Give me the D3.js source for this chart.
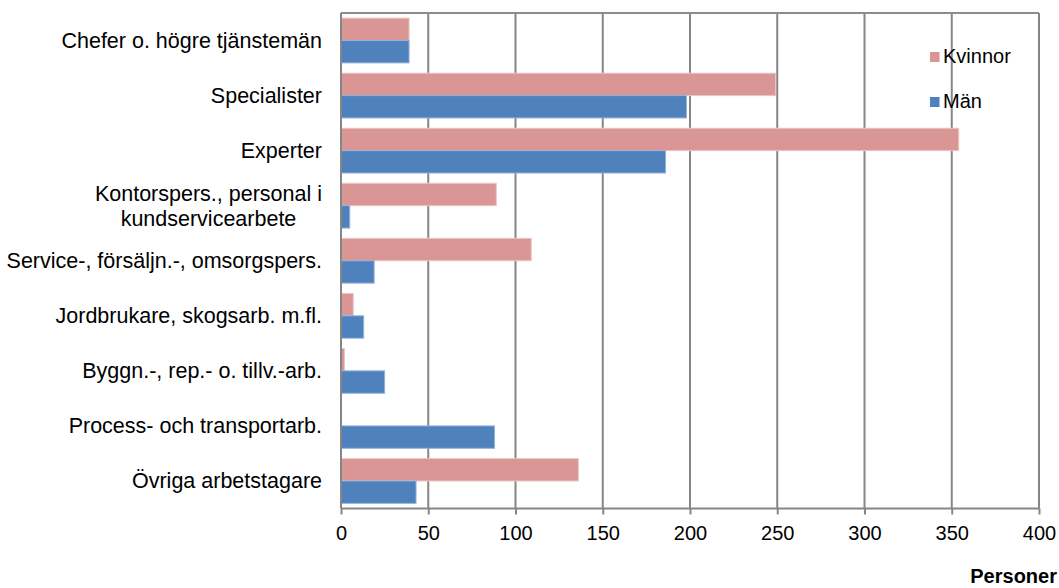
<!DOCTYPE html>
<html>
<head>
<meta charset="utf-8">
<script src="https://cdn.jsdelivr.net/npm/d3@7"></script>
<style>
  html, body { margin: 0; padding: 0; background: #fff; }
  svg { display: block; font-family: "Liberation Sans", Arial, sans-serif; }
</style>
</head>
<body>
<svg id="chart" width="1059" height="588"></svg>
<script>
const categories = [
  "Chefer o. högre tjänstemän",
  "Specialister",
  "Experter",
  "Kontorspers., personal i\nkundservicearbete",
  "Service-, försäljn.-, omsorgspers.",
  "Jordbrukare, skogsarb. m.fl.",
  "Byggn.-, rep.- o. tillv.-arb.",
  "Process- och transportarb.",
  "Övriga arbetstagare"
];
const seriesNames = ["Kvinnor", "Män"];
const kvinnor = [39, 249, 354, 89, 109, 7, 2, 0, 136];
const man = [39, 198, 186, 5, 19, 13, 25, 88, 43];
const xTicks = [0, 50, 100, 150, 200, 250, 300, 350, 400];
const axisTitle = "Personer";
const colors = { "Kvinnor": "#D99694", "Män": "#4F81BD" };
const strokes = { "Kvinnor": "#EBC4C3", "Män": "#93B3DB" };

const svg = d3.select("#chart");
const pLeft = 341, pRight = 1039, pTop = 13, pBottom = 508.5;

const x = d3.scaleLinear().domain([0, 400]).range([pLeft, pRight]);
const y0 = d3.scaleBand().domain(categories).range([pTop, pBottom]).padding(0);
const y1 = d3.scaleBand().domain(seriesNames).range([0, y0.bandwidth()]).paddingInner(0).paddingOuter(0.23);

const data = categories.map((c, i) => ({ cat: c, values: [
  { key: "Kvinnor", value: kvinnor[i] },
  { key: "Män", value: man[i] }
]}));

// gridlines
const grid = svg.append("g");
grid.selectAll("line").data(xTicks.slice(1)).join("line")
  .attr("x1", d => x(d)).attr("x2", d => x(d))
  .attr("y1", pTop).attr("y2", pBottom)
  .attr("stroke", "#868686").attr("stroke-width", 2);
// top border
svg.append("line").attr("x1", pLeft).attr("x2", pRight).attr("y1", pTop).attr("y2", pTop)
  .attr("stroke", "#8c8c8c").attr("stroke-width", 2);

// bars
const groups = svg.append("g").selectAll("g").data(data).join("g")
  .attr("transform", d => `translate(0,${y0(d.cat)})`);
groups.selectAll("rect").data(d => d.values).join("rect")
  .attr("x", x(0))
  .attr("y", d => y1(d.key))
  .attr("width", d => Math.max(0, x(d.value) - x(0)))
  .attr("height", y1.bandwidth())
  .attr("fill", d => colors[d.key])
  .attr("stroke", d => d.value > 0 ? strokes[d.key] : "none")
  .attr("stroke-width", 1);

// left axis line
svg.append("line").attr("x1", pLeft).attr("x2", pLeft).attr("y1", pTop).attr("y2", pBottom)
  .attr("stroke", "#868686").attr("stroke-width", 2);

// bottom axis
const xAxis = d3.axisBottom(x).tickValues(xTicks).tickSize(6).tickPadding(11).tickFormat(d3.format("d"));
const ax = svg.append("g").attr("transform", `translate(0,${pBottom})`).call(xAxis);
ax.select(".domain").attr("stroke", "#868686").attr("stroke-width", 2).attr("d", `M${pLeft},0H${pRight}`);
ax.selectAll(".tick line").attr("stroke", "#868686").attr("stroke-width", 2);
ax.selectAll(".tick text").attr("font-size", 20).attr("fill", "#000")
  .attr("font-family", '"Liberation Sans", Arial, sans-serif');

// axis title
svg.append("text").attr("x", 1057).attr("y", 583).attr("text-anchor", "end")
  .attr("font-size", 20).attr("font-weight", "bold").text(axisTitle);

// category labels
const labelRight = 322;
categories.forEach(c => {
  const lines = c.split("\n");
  const cy = y0(c) + y0.bandwidth() / 2;
  const lh = 25;
  const t = svg.append("text").attr("font-size", 21.5).attr("fill", "#000");
  const spans = lines.map((ln, i) => t.append("tspan").text(ln)
    .attr("y", cy + 7.5 + (i - (lines.length - 1) / 2) * lh));
  const widths = spans.map(s => s.node().getComputedTextLength());
  const maxW = Math.max(...widths);
  const cx = labelRight - maxW / 2;
  t.attr("text-anchor", "middle");
  spans.forEach(s => s.attr("x", cx));
});

// legend
const legend = svg.append("g");
const legendY = [57, 102];
seriesNames.forEach((s, i) => {
  legend.append("rect").attr("x", 930).attr("y", legendY[i] - 5).attr("width", 9.5).attr("height", 10)
    .attr("fill", colors[s]);
  legend.append("text").attr("x", 943).attr("y", legendY[i] + 5.5).attr("font-size", 20)
    .attr("fill", "#000").text(s);
});
</script>
</body>
</html>
